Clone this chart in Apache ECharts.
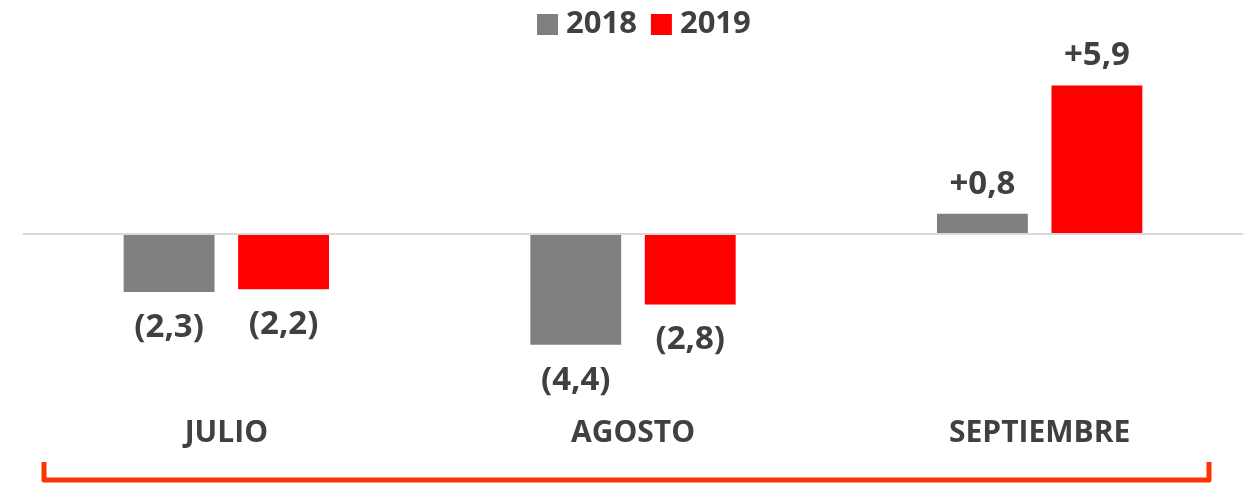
<!DOCTYPE html>
<html>
<head>
<meta charset="utf-8">
<script src="https://cdn.jsdelivr.net/npm/echarts@6/dist/echarts.min.js"></script>
<style>html,body{margin:0;padding:0;background:#fff;}#c{width:1245px;height:485px;}</style>
</head>
<body>
<div id="c"></div>
<script>
var categories = ['JULIO', 'AGOSTO', 'SEPTIEMBRE'];
var seriesNames = ['2018', '2019'];
var values2018 = [-2.3, -4.4, 0.8];
var values2019 = [-2.2, -2.8, 5.9];

var FONT = '"Open Sans", sans-serif';
var TXT = '#404040';

function fmt(p) {
  var v = p.value;
  var s = Math.abs(v).toFixed(1).replace('.', ',');
  return v < 0 ? '(' + s + ')' : '+' + s;
}
function labelCfg() {
  return {
    show: true,
    formatter: fmt,
    fontFamily: FONT,
    fontWeight: 'bold',
    fontSize: 33,
    color: TXT
  };
}
function dataWithPos(arr) {
  return arr.map(function (v) {
    return { value: v, label: { position: v < 0 ? 'bottom' : 'top', distance: v < 0 ? 19 : 13 } };
  });
}

var chart = echarts.init(document.getElementById('c'), null, { renderer: 'canvas' });
chart.setOption({
  animation: false,
  backgroundColor: '#ffffff',
  legend: {
    data: seriesNames,
    top: 4,
    left: 532,
    icon: 'rect',
    itemWidth: 21,
    itemHeight: 21,
    itemGap: 14,
    textStyle: { fontFamily: FONT, fontWeight: 'bold', fontSize: 31, color: TXT, padding: [0, 0, 0, 3] }
  },
  grid: { left: 23, right: 2, top: 83, bottom: 100, containLabel: false },
  xAxis: {
    type: 'category',
    data: categories,
    axisLine: { show: false, onZero: false },
    axisTick: { show: false },
    axisLabel: { fontFamily: FONT, fontWeight: 'bold', fontSize: 30, color: TXT, margin: 33 }
  },
  yAxis: {
    type: 'value',
    min: -6,
    max: 6,
    show: false,
    splitLine: { show: false }
  },
  series: [
    {
      name: '2018',
      type: 'bar',
      data: dataWithPos(values2018),
      itemStyle: { color: '#808080' },
      barGap: '26%',
      barCategoryGap: '49.5%',
      label: labelCfg(),
      markLine: {
        silent: true,
        symbol: 'none',
        label: { show: false },
        lineStyle: { color: '#d9d9d9', width: 2, type: 'solid' },
        data: [{ yAxis: 0 }]
      },
      z: 3
    },
    {
      name: '2019',
      type: 'bar',
      data: dataWithPos(values2019),
      itemStyle: { color: '#ff0000' },
      label: labelCfg(),
      z: 3
    }
  ],
  graphic: [
    {
      type: 'polyline',
      shape: { points: [[44, 462], [44, 480], [1209, 480], [1209, 462]] },
      style: { stroke: '#ff3300', lineWidth: 5, fill: null, lineJoin: 'round' }
    }
  ]
});
</script>
</body>
</html>
